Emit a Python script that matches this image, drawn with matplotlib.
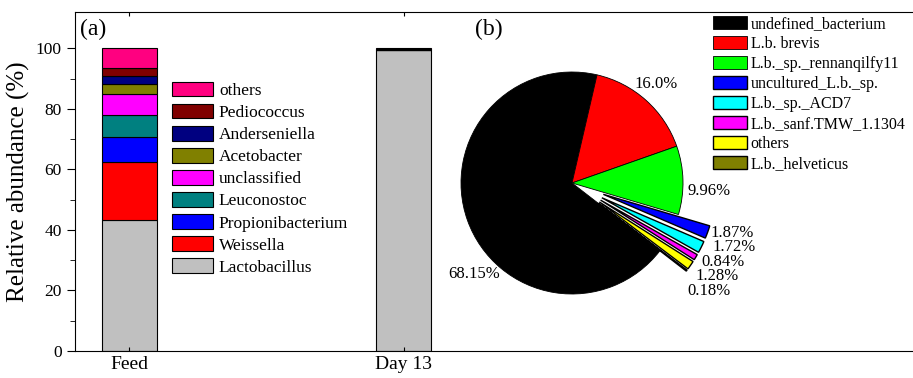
import numpy as np
import matplotlib.pyplot as plt
from matplotlib.patches import ConnectionPatch

plt.rcParams["font.family"] = ["Liberation Serif", "DejaVu Serif"]
plt.rcParams["mathtext.fontset"] = "stix"

# --- (a) genus-level composition ---
samples = ["Feed", "Day 13"]
genera = ["Lactobacillus", "Weissella", "Propionibacterium", "Leuconostoc",
          "unclassified", "Acetobacter", "Anderseniella", "Pediococcus", "others"]
genus_colors = ["#c0c0c0", "#ff0000", "#0000ff", "#008080", "#ff00ff",
                "#808000", "#000080", "#800000", "#ff0080"]
feed = [43.4, 19.1, 8.2, 7.2, 7.1, 3.3, 2.5, 2.6, 6.6]
day13 = [99.3, 0.2, 0.1, 0.1, 0.1, 0.0, 0.0, 0.1, 0.1]

# --- (b) Lactobacillus species at day 13 ---
species = ["undefined_bacterium", "L.b. brevis", "L.b._sp._rennanqilfy11",
           "uncultured_L.b._sp.", "L.b._sp._ACD7", "L.b._sanf.TMW_1.1304",
           "others", "L.b._helveticus"]
species_pct = [68.15, 16.0, 9.96, 1.87, 1.72, 0.84, 1.28, 0.18]
species_colors = ["#000000", "#ff0000", "#00ff00", "#0000ff", "#00ffff",
                  "#ff00ff", "#ffff00", "#808000"]
explode = [0, 0, 0, 0.3, 0.3, 0.3, 0.3, 0.3]

fig = plt.figure(figsize=(9.13, 3.78), dpi=100)
W, H = 913, 378

ax = fig.add_axes([75 / W, 27 / H, 0.925, 339 / H])
x = np.arange(1, len(samples) + 1)
bottom = np.zeros(len(samples))
handles = []
for i, name in enumerate(genera):
    vals = np.array([feed[i], day13[i]])
    b = ax.bar(x, vals, width=0.2, bottom=bottom, color=genus_colors[i],
               edgecolor="black", linewidth=0.8, label=name)
    handles.append(b)
    bottom += vals

ax.set_xlim(0.8015, 3.88)
ax.set_ylim(0, 112)
ax.set_xticks(x)
ax.set_xticklabels(samples, fontsize=14)
ax.set_yticks(np.arange(0, 101, 20))
ax.set_yticks(np.arange(10, 101, 20), minor=True)
ax.tick_params(axis="y", which="major", direction="out", length=6, labelsize=12.5)
ax.tick_params(axis="y", which="minor", direction="out", length=3.5)
ax.tick_params(axis="x", direction="in", length=3, top=True)
ax.spines["right"].set_visible(False)
ax.set_ylabel("Relative abundance (%)", fontsize=18, labelpad=4)
fig.text(80 / W, 1 - 19 / H, "(a)", fontsize=17, ha="left", va="top")
fig.text(475 / W, 1 - 19 / H, "(b)", fontsize=17, ha="left", va="top")

leg_a = fig.legend(handles[::-1], genera[::-1], loc="upper left",
                   bbox_to_anchor=(172 / W, 1 - 82 / H), frameon=False,
                   fontsize=12.5, handlelength=2.35, handleheight=0.9,
                   handletextpad=0.35, labelspacing=0.28, borderpad=0,
                   borderaxespad=0)

# pie axes: centre (572, 183) px, radius 111 px, limits +-1.5
r_px = 111
size = 1.5 * r_px * 2
pax = fig.add_axes([(572 - size / 2) / W, (H - 183 - size / 2) / H, size / W, size / H])
wedges, _ = pax.pie(species_pct, colors=species_colors, explode=explode,
                    startangle=-37.7, counterclock=False,
                    wedgeprops=dict(edgecolor="black", linewidth=0.6))
for w in wedges[3:]:
    w.set_linewidth(1.0)
pax.set_xlim(-1.5, 1.5)
pax.set_ylim(-1.5, 1.5)
pax.set_aspect("auto")
pax.axis("off")

label_pos = [(-0.88, -0.82), (0.56, 0.89), (1.045, -0.07),
             (1.25, -0.45), (1.27, -0.58), (1.17, -0.71),
             (1.11, -0.84), (1.04, -0.97)]
for pct, (lx, ly) in zip(species_pct, label_pos):
    txt = f"{pct:.1f}%" if pct == 16.0 else f"{pct:.2f}%"
    ha = "center" if pct == 68.15 else "left"
    pax.text(lx, ly, txt, fontsize=12, ha=ha, va="center")

leg_b = fig.legend(wedges, species, loc="upper left",
                   bbox_to_anchor=(713 / W, 1 - 16 / H), frameon=False,
                   fontsize=11.5, handlelength=2.1, handleheight=0.8,
                   handletextpad=0.25, labelspacing=0.25, borderpad=0,
                   borderaxespad=0)

# zoom lines from the Day 13 bar to the pie
for yb, ang in [(100, 76.7), (0, -69)]:
    a = np.deg2rad(ang)
    con = ConnectionPatch(xyA=(2.1, yb), coordsA=ax.transData,
                          xyB=(np.cos(a), np.sin(a)), coordsB=pax.transData,
                          color="#008000", linewidth=1.5, zorder=0)
    fig.add_artist(con)

fig.savefig("out.png", dpi=100)
